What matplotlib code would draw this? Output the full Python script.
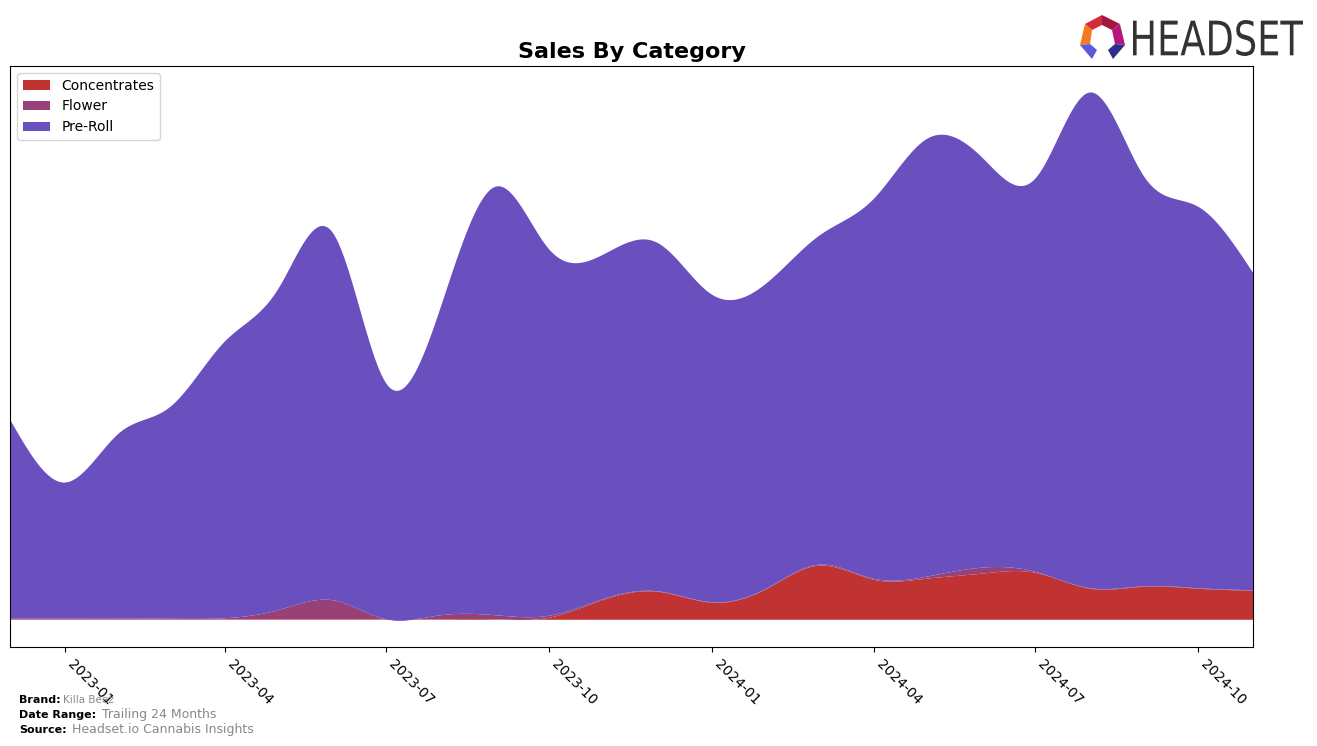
import numpy as np
import pandas as pd
import matplotlib
matplotlib.use('Agg')
import matplotlib.pyplot as plt
import matplotlib.dates as mdates
from matplotlib.textpath import TextPath
from matplotlib.patches import PathPatch, Polygon
from matplotlib.font_manager import FontProperties
from matplotlib.transforms import Affine2D

# monthly sales, Dec 2022 .. Nov 2024
months = pd.date_range('2022-12-01', '2024-11-01', freq='MS')
concentrates = [0.5, 0.5, 0.5, 0.5, 0.5, 0.5, 0.5, 0.5, 0.5, 0.5, 2, 20,
                28, 17, 31, 54, 40, 41, 46, 47, 31, 33, 31, 29]
flower = [0.5, 0.5, 0.5, 0.5, 1, 9, 19, 0, 4, 4, 2, 1,
          0.5, 0.5, 0.5, 1, 1, 2, 6, 1, 0.5, 0.5, 0.5, 0.5]
pre_roll = [199, 136, 186, 211, 276, 320, 367, 236, 308, 428, 366, 344,
            348, 307, 305, 328, 379, 437, 410, 392, 495, 408, 381, 317]
categories = ['Concentrates', 'Flower', 'Pre-Roll']
colors = ['#C13232', '#984078', '#6A4FBE']


def spline(x, y, xs):
    # natural cubic spline
    # {{{
    y = np.asarray(y, dtype=float)
    n = len(x)
    h = np.diff(x)
    A = np.zeros((n, n))
    b = np.zeros(n)
    A[0, 0] = A[-1, -1] = 1
    for i in range(1, n-1):
        A[i, i-1] = h[i-1]
        A[i, i] = 2*(h[i-1]+h[i])
        A[i, i+1] = h[i]
        b[i] = 3*((y[i+1]-y[i])/h[i]-(y[i]-y[i-1])/h[i-1])
    c = np.linalg.solve(A, b)
    bb = (y[1:]-y[:-1])/h - h*(2*c[:-1]+c[1:])/3
    d = (c[1:]-c[:-1])/(3*h)
    idx = np.clip(np.searchsorted(x, xs)-1, 0, n-2)
    dx = xs - x[idx]
    return y[idx]+bb[idx]*dx+c[idx]*dx**2+d[idx]*dx**3
# }}}


x = mdates.date2num(months.to_pydatetime())
xs = np.linspace(x[0], x[-1], 800)
ys = [spline(x, s, xs) for s in (concentrates, flower, pre_roll)]

fig = plt.figure(figsize=(13.17, 7.46), dpi=100)
ax = fig.add_axes([0.0076, 0.1327, 0.9438, 0.7788])
ax.stackplot(mdates.num2date(xs), *ys, labels=categories, colors=colors,
             linewidth=0)
ax.set_xlim(mdates.num2date(x[0]), mdates.num2date(x[-1]))
ax.margins(x=0)
ax.set_yticks([])
ax.xaxis.set_major_locator(mdates.MonthLocator(bymonth=[1, 4, 7, 10]))
ax.xaxis.set_major_formatter(mdates.DateFormatter('%Y-%m'))
plt.setp(ax.get_xticklabels(), rotation=-45, ha='left', fontsize=10)
ax.set_title('Sales By Category', fontsize=16, fontweight='bold')
ax.legend(loc='upper left', fontsize=10)

# footer
fig.text(0.0144, 0.0617, 'Brand:', fontsize=8, fontweight='bold',
         va='center')
fig.text(0.0478, 0.0617, 'Killa Beez', fontsize=7.5, color='#888888',
         va='center')
fig.text(0.0144, 0.0416, 'Date Range:', fontsize=8, fontweight='bold',
         va='center')
fig.text(0.0775, 0.0416, 'Trailing 24 Months', fontsize=9,
         color='#888888', va='center')
fig.text(0.0144, 0.0215, 'Source:', fontsize=8, fontweight='bold',
         va='center')
fig.text(0.0547, 0.0215, 'Headset.io Cannabis Insights', fontsize=9,
         color='#888888', va='center')

# logo
lg = fig.add_axes([0, 0, 1, 1], zorder=5)
lg.set_xlim(0, 1317)
lg.set_ylim(0, 746)
lg.axis('off')
lg.patch.set_alpha(0)
tp = TextPath((0, 0), 'HEADSET', size=40,
              prop=FontProperties(family='DejaVu Sans'))
ext = tp.get_extents()
tr = Affine2D().translate(-ext.x0, -ext.y0).scale(
    170/ext.width, 36/ext.height).translate(1133, 746-56)
lg.add_patch(PathPatch(tr.transform_path(tp), color='#333333', lw=0))
icon = [
    ([(1085, 24), (1102, 15), (1102, 25), (1092, 30)], '#D42B3A'),
    ([(1102, 15), (1120, 24), (1112, 30), (1102, 25)], '#A3173F'),
    ([(1085, 24), (1092, 30), (1090, 44), (1080, 45)], '#F47B20'),
    ([(1120, 24), (1125, 45), (1115, 44), (1112, 30)], '#B5157C'),
    ([(1080, 45), (1090, 44), (1097, 50), (1092, 59)], '#5A5BD8'),
    ([(1115, 44), (1125, 45), (1113, 59), (1108, 50)], '#2E2E8F'),
]
for pts, c in icon:
    lg.add_patch(Polygon([(px, 746-py) for px, py in pts], color=c, lw=0))

fig.savefig('out.png', dpi=100)
